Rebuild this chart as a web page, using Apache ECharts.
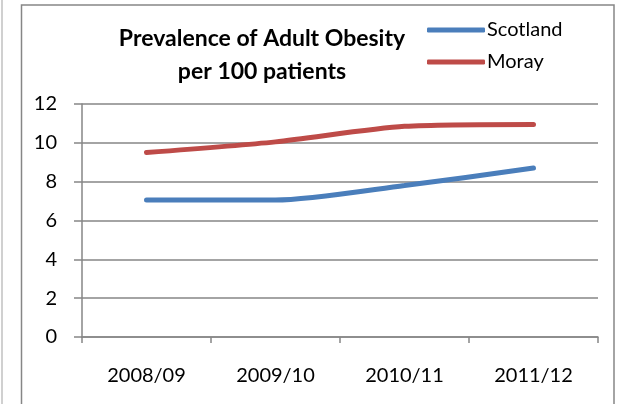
<!DOCTYPE html>
<html>
<head>
<meta charset="utf-8">
<script src="https://cdn.jsdelivr.net/npm/echarts@6/dist/echarts.min.js"></script>
<style>
  html, body { margin: 0; padding: 0; background: #fff; }
  #chart { width: 620px; height: 404px; }
</style>
</head>
<body>
<div id="chart"></div>
<script>
var categories = ['2008/09', '2009/10', '2010/11', '2011/12'];
var scotland = [7.05, 7.05, 7.8, 8.7];
var moray = [9.5, 10.05, 10.85, 10.95];
var yTicks = { min: 0, max: 12, interval: 2 };

var chart = echarts.init(document.getElementById('chart'));
chart.setOption({
  animation: false,
  textStyle: { fontFamily: 'Lato' },
  graphic: [
    { type: 'rect', shape: { x: 21.5, y: 5, width: 592.5, height: 410 },
      style: { fill: 'none', stroke: '#868686', lineWidth: 1.5 } },
    { type: 'line', shape: { x1: 2, y1: 0, x2: 2, y2: 404 },
      style: { stroke: '#d0d0d0', lineWidth: 2 } }
  ],
  title: {
    text: 'Prevalence of Adult Obesity\nper 100 patients',
    left: 262,
    top: 22,
    padding: 0,
    textAlign: 'center',
    textStyle: { fontFamily: 'Lato', fontSize: 23, fontWeight: 'bold', color: '#000', lineHeight: 33 }
  },
  legend: {
    orient: 'vertical',
    left: 422,
    top: 15,
    itemWidth: 58,
    itemHeight: 5,
    itemGap: 12,
    icon: 'roundRect',
    textStyle: { fontFamily: 'Lato', fontSize: 20, color: '#000', padding: [0, 0, 0, -3] },
    data: ['Scotland', 'Moray']
  },
  grid: { left: 82, right: 22, top: 104, bottom: 67 },
  xAxis: {
    type: 'category',
    data: categories,
    boundaryGap: true,
    axisLine: { lineStyle: { color: '#868686', width: 1.5 } },
    axisTick: { show: true, length: 6, lineStyle: { color: '#868686', width: 1.5 } },
    axisLabel: { color: '#000', fontSize: 20, margin: 29 }
  },
  yAxis: {
    type: 'value',
    min: yTicks.min,
    max: yTicks.max,
    interval: yTicks.interval,
    axisLine: { show: true, lineStyle: { color: '#868686', width: 1.5 } },
    axisTick: { show: true, length: 8, lineStyle: { color: '#868686', width: 1.5 } },
    splitLine: { lineStyle: { color: '#868686', width: 1.5 } },
    axisLabel: { color: '#000', fontSize: 20, margin: 25 }
  },
  series: [
    {
      name: 'Scotland',
      type: 'line',
      data: scotland,
      symbol: 'none',
      smooth: 0.25,
      color: '#4a7ebb',
      lineStyle: { width: 5, color: '#4a7ebb', cap: 'round' }
    },
    {
      name: 'Moray',
      type: 'line',
      data: moray,
      symbol: 'none',
      smooth: 0.25,
      color: '#be4b48',
      lineStyle: { width: 5, color: '#be4b48', cap: 'round' }
    }
  ]
});
</script>
</body>
</html>
